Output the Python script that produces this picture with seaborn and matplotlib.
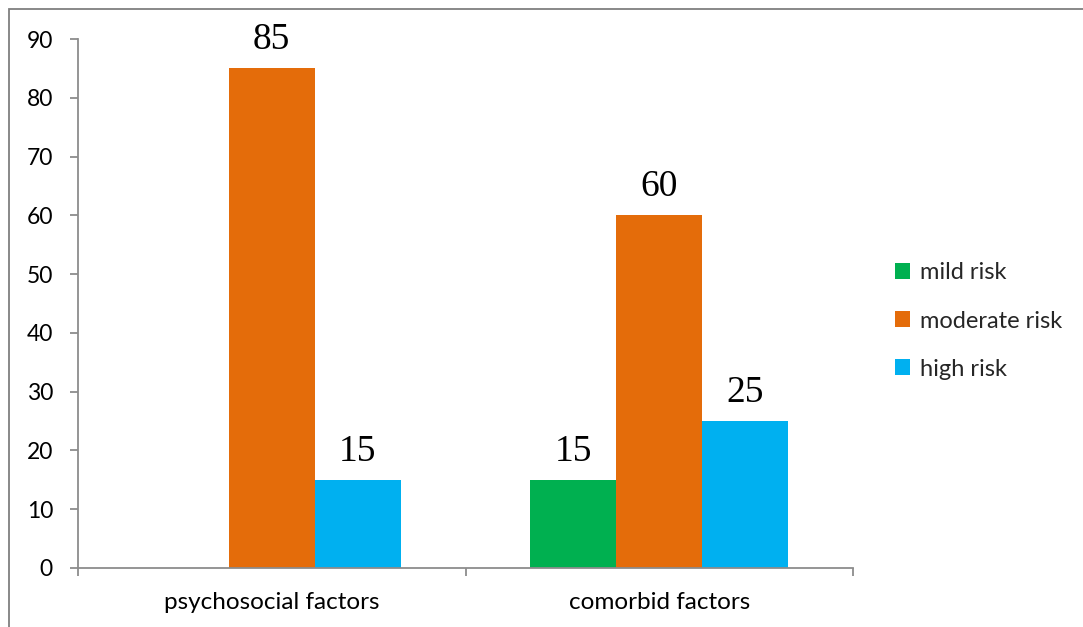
import matplotlib
matplotlib.use("Agg")
import matplotlib.pyplot as plt
import matplotlib.patches as mpatches
import seaborn as sns
import pandas as pd
import numpy as np

categories = ["psychosocial factors", "comorbid factors"]
risk_levels = ["mild risk", "moderate risk", "high risk"]
mild_risk = [0, 15]
moderate_risk = [85, 60]
high_risk = [15, 25]
y_ticks = [0, 10, 20, 30, 40, 50, 60, 70, 80, 90]
colors = ["#00B050", "#E46C0A", "#00B0F0"]

rows = []
for lvl, vals in zip(risk_levels, [mild_risk, moderate_risk, high_risk]):
    for c, v in zip(categories, vals):
        rows.append({"category": c, "risk": lvl, "value": v})
df = pd.DataFrame(rows)

sns.set_theme(style="white")
plt.rcParams["font.family"] = ["Lato", "DejaVu Sans"]

fig = plt.figure(figsize=(10.83, 6.27), dpi=100)
ax = fig.add_axes([78/1083, 1-568/627, (853-78)/1083, (568-39)/627])

sns.barplot(data=df, x="category", y="value", hue="risk", order=categories,
            hue_order=risk_levels, palette=colors, width=0.665, saturation=1,
            ax=ax, edgecolor="none", linewidth=0, legend=True)

for cont in ax.containers:
    labels = [f"{v:.0f}" if v > 0 else "" for v in cont.datavalues]
    ax.bar_label(cont, labels=labels, padding=8, fontsize=27,
                 family=["Liberation Serif", "DejaVu Serif"], color="black")

ax.set_xlim(-0.5, 1.5)
ax.set_ylim(0, 90)
ax.set_yticks(y_ticks)
ax.set_xlabel("")
ax.set_ylabel("")

spine_c = "#8C8C8C"
for s in ["top", "right"]:
    ax.spines[s].set_visible(False)
for s in ["left", "bottom"]:
    ax.spines[s].set_color(spine_c)
    ax.spines[s].set_linewidth(1.3)

ax.tick_params(axis="y", which="major", left=True, length=6, width=1.3,
               color=spine_c, labelsize=16.5, pad=12, labelcolor="black")
ax.tick_params(axis="x", which="major", bottom=False, length=0, labelsize=17.5,
               pad=17, labelcolor="black")
ax.set_xticks([-0.5, 0.5, 1.5], minor=True)
ax.tick_params(axis="x", which="minor", bottom=True, length=6, width=1.3,
               color=spine_c)

leg = ax.get_legend()
handles = leg.legend_handles
leg.remove()
fig.legend(handles, risk_levels, loc="center left",
           bbox_to_anchor=(895/1083, 1-321/627), frameon=False, fontsize=17,
           handlelength=0.65, handleheight=0.65, handletextpad=0.4,
           labelspacing=1.15, borderpad=0, borderaxespad=0)

border = mpatches.Rectangle((9/1083, -0.1), 1.2, 1.1 - 9/627, transform=fig.transFigure,
                            fill=False, edgecolor="#7F7F7F", linewidth=1.3, clip_on=False)
fig.patches.append(border)

fig.savefig("out.png", dpi=100)
